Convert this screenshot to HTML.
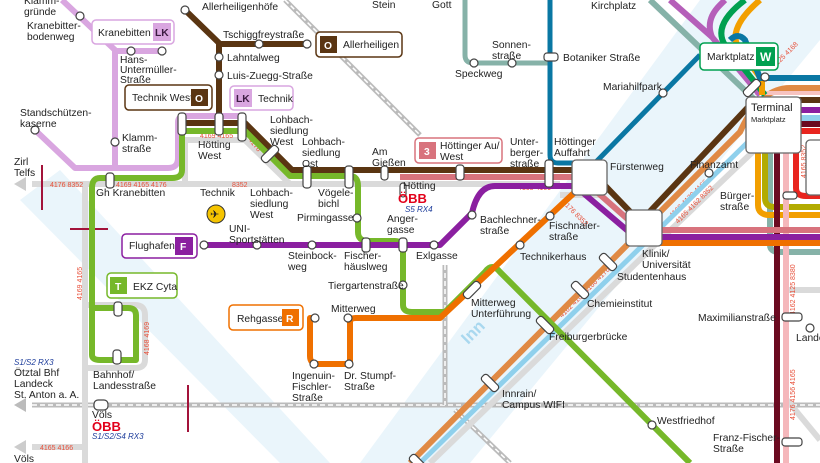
<!DOCTYPE html>
<html><head><meta charset="utf-8"><style>
html,body{margin:0;padding:0;background:#fff;}
svg{display:block;font-family:"Liberation Sans",sans-serif;}
.t{font-size:10.3px;fill:#222;}
.s{font-size:7px;fill:#e8503a;}
</style></head><body>
<svg width="820" height="463" viewBox="0 0 820 463" xmlns="http://www.w3.org/2000/svg">
<polygon points="700,0 820,0 820,40 470,463 360,463" fill="#eaf5fb"/>
<polygon points="20,200 60,170 330,463 280,463" fill="#eaf5fb"/>
<text x="468" y="345" transform="rotate(-45 468 345)" font-size="17" font-weight="bold" fill="#a9d8ef">Inn</text>

<g fill="none">
<path d="M32,405 H820" stroke="#bbb" stroke-width="5"/>
<path d="M32,405 H820" stroke="#fff" stroke-width="1.5" stroke-dasharray="5 3"/>
<path d="M445,265 V405" stroke="#bbb" stroke-width="5"/><path d="M445,265 V405" stroke="#fff" stroke-width="1.5" stroke-dasharray="5 3"/>
<path d="M285,0 L420,135" stroke="#bbb" stroke-width="5"/><path d="M285,0 L420,135" stroke="#fff" stroke-width="1.5" stroke-dasharray="5 3"/>
<path d="M455,410 L510,463" stroke="#bbb" stroke-width="5"/><path d="M455,410 L510,463" stroke="#fff" stroke-width="1.5" stroke-dasharray="5 3"/>
</g>
<polygon points="14,405 26,398 26,412" fill="#bbb"/>
<polygon points="14,184 26,177 26,191" fill="#ccc"/>
<polygon points="14,447 26,440 26,454" fill="#ccc"/>

<g fill="none" stroke="#dadada" stroke-width="6" stroke-linejoin="round">
<path d="M32,184 H560"/>
<path d="M85,184 V463"/>
<path d="M32,447 H82"/>
<path d="M185,140 H245 L290,184"/>
<path d="M185,140 V184"/>
<path d="M88,305 H135 Q145,305 145,315 V360 Q145,368 135,368 H88"/>
<path d="M430,463 L660,240 L760,145"/>
<path d="M787,290 H820"/>
<path d="M787,400 L820,440"/>
<path d="M560,195 H600"/>
</g>
<g class="s">
<text x="50" y="187">4176 8352</text><text x="116" y="187">4169 4165 4176</text><text x="232" y="187">8352</text>
<text x="200" y="138">4169 4165</text>
<text x="40" y="450">4165 4166</text>
<text x="518" y="190">4165 4169</text>
</g>
<text class="s" transform="translate(82,300) rotate(-90)">4169 4165</text>
<text class="s" transform="translate(149,355) rotate(-90)">4168 4169</text>
<text class="s" transform="translate(248,140) rotate(50)">4176</text>
<text class="s" transform="translate(562,203) rotate(45)">4176 8352</text>
<text class="s" transform="translate(562,318) rotate(-45)">4162 4165 4166 4176</text>
<text class="s" transform="translate(672,218) rotate(-45)">4168 4170 4166</text>
<text class="s" transform="translate(678,224) rotate(-45)">4165 4162 8352</text>
<text class="s" transform="translate(798,178) rotate(-90)">4175 4166</text>
<text class="s" transform="translate(806,178) rotate(-90)">4165 8352</text>
<text class="s" transform="translate(795,315) rotate(-90)">4162 4125 8380</text>
<text class="s" transform="translate(795,420) rotate(-90)">4176 4156 4165</text>
<text class="s" transform="translate(775,68) rotate(-45)">4125 4168</text>

<path d="M42,165 V210 M70,229 H108 M188,385 V432" stroke="#a3133a" stroke-width="2"/>

<g fill="none" stroke-linejoin="round">
<path d="M410,463 L640,232" stroke="#e08a45" stroke-width="6"/>
<path d="M420,463 L648,240" stroke="#8fd0ec" stroke-width="5"/>
<path d="M640,232 L740,132 Q760,88 790,88 H820" stroke="#e08a45" stroke-width="6"/>
<path d="M648,240 L750,140" stroke="#8fd0ec" stroke-width="5"/>
</g>

<g fill="none" stroke-width="6" stroke-linejoin="round">
<path d="M770,150 V245 Q770,252 780,252 H820" stroke="#86b2a8"/>
<path d="M758,150 V205 Q758,215 770,215 H820" stroke="#f29f00"/>
<path d="M765,150 V198 Q765,207 775,207 H820" stroke="#b2ab00"/>
<path d="M777,150 V463" stroke="#6b0a20"/>
<path d="M786,150 V463" stroke="#f5b7bb"/>
<path d="M796,150 V188 Q796,196 806,196 H820" stroke="#e8251f"/>
<path d="M800,110 H820" stroke="#8b1fa0"/>
<path d="M800,118 H820" stroke="#8fd0ec"/>
<path d="M800,124 H820" stroke="#6b0a20"/>
<path d="M800,131 H820" stroke="#e8251f"/>
<path d="M760,100 H820" stroke="#5a3512"/>
<path d="M755,93 L820,93" stroke="#f7c3c0" stroke-width="4"/>
</g>

<g fill="none" stroke-width="6">
<path d="M650,0 L755,100" stroke="#86b2a8"/>
<path d="M670,0 L712,37 Q705,20 720,5 L725,0" stroke="#b55fb9"/>
<path d="M712,37 L760,95" stroke="#b55fb9"/>
<path d="M745,0 Q712,25 725,45 L765,95" stroke="#00a050"/>
<path d="M760,0 Q725,30 740,50 L762,80 V95" stroke="#f29f00"/>
<path d="M730,40 Q738,32 745,40 L760,78 H820" stroke="#0a77a3"/>
</g>

<path d="M465,0 V55 Q465,63 473,63 H550" fill="none" stroke="#86b2a8" stroke-width="5"/>
<path d="M550,0 V155 Q550,163 558,163 H580 M595,163 L700,55" fill="none" stroke="#0a77a3" stroke-width="5"/>

<g fill="none" stroke="#d9a6e0" stroke-width="6" stroke-linejoin="round">
<path d="M62,0 L115,50 V168"/>
<path d="M115,51 H162"/>
<path d="M35,130 L75,168 H168 Q178,168 178,158 V122 Q178,116 186,116 H242"/>
</g>

<path d="M400,177 H580 L640,230 H820" fill="none" stroke="#d8737d" stroke-width="6"/>

<g fill="none" stroke="#5a3512" stroke-width="6" stroke-linejoin="round">
<path d="M185,10 L219,43 V123"/>
<path d="M219,44 H307"/>
<path d="M185,123 H245 L292,170 H590 L640,222 L750,105"/>
</g>

<g fill="none" stroke="#76b82a" stroke-width="6" stroke-linejoin="round">
<path d="M182,131 V170 Q182,178 172,178 H100 Q92,178 92,188 V355 Q92,360 100,360 H136 V315 Q136,308 128,308 H92"/>
<path d="M182,131 H245 L290,176 H350 Q358,176 358,186 V232 Q358,241 368,241 H395 Q403,241 403,250 V305 Q403,312 412,312 H445 L485,272 Q492,262 500,272 L690,463"/>
</g>

<path d="M204,245 H440 L472,213 Q478,186 495,186 H575 L635,237 H820" fill="none" stroke="#8b1fa0" stroke-width="6" stroke-linejoin="round"/>

<g fill="none" stroke="#ef7000" stroke-width="6" stroke-linejoin="round">
<path d="M316,318 H310 V356 Q310,364 318,364 H350 V322 Q350,318 356,318 H440 L575,192 M626,243 H820"/>
</g>

<g fill="#fff" stroke="#444" stroke-width="1.2">
<circle cx="185" cy="10" r="4"/><circle cx="259" cy="44" r="4"/><circle cx="307" cy="44" r="4"/>
<circle cx="219" cy="57" r="4"/><circle cx="219" cy="75" r="4"/>
<circle cx="80" cy="16" r="4"/><circle cx="131" cy="51" r="4"/><circle cx="162" cy="51" r="4"/>
<circle cx="115" cy="142" r="4"/><circle cx="35" cy="130" r="4"/>
<circle cx="474" cy="63" r="4"/><circle cx="512" cy="63" r="4"/>
<circle cx="663" cy="93" r="4"/><circle cx="709" cy="173" r="4"/>
<circle cx="472" cy="215" r="4"/><circle cx="550" cy="216" r="4"/><circle cx="520" cy="245" r="4"/>
<circle cx="204" cy="245" r="4"/><circle cx="257" cy="245" r="4"/><circle cx="312" cy="245" r="4"/>
<circle cx="434" cy="245" r="4"/><circle cx="357" cy="218" r="4"/>
<circle cx="403" cy="285" r="4"/>
<circle cx="315" cy="318" r="4"/><circle cx="348" cy="318" r="4"/><circle cx="314" cy="364" r="4"/><circle cx="349" cy="364" r="4"/>
<circle cx="652" cy="425" r="4"/><circle cx="765" cy="77" r="4"/>
<circle cx="810" cy="328" r="4"/>
</g>
<g fill="#fff" stroke="#444" stroke-width="1.2">
<rect x="178" y="113" width="8" height="22" rx="3"/><rect x="215" y="113" width="8" height="22" rx="3"/><rect x="238" y="113" width="8" height="28" rx="3"/>
<rect x="106" y="173" width="8" height="15" rx="3"/>
<rect x="303" y="166" width="8" height="22" rx="3"/><rect x="345" y="166" width="8" height="22" rx="3"/><rect x="381" y="166" width="7" height="14" rx="3"/>
<rect x="456" y="165" width="8" height="15" rx="3"/><rect x="545" y="160" width="8" height="27" rx="3"/>
<rect x="544" y="53" width="14" height="8" rx="3"/>
<rect x="362" y="238" width="8" height="14" rx="3"/><rect x="399" y="238" width="8" height="14" rx="3"/>
<rect x="114" y="302" width="8" height="14" rx="3"/><rect x="113" y="350" width="8" height="14" rx="3"/>
<rect x="94" y="400" width="14" height="10" rx="4"/>
<rect x="782" y="313" width="20" height="8" rx="3"/><rect x="782" y="438" width="20" height="8" rx="3"/>
<rect x="783" y="192" width="14" height="7" rx="3"/>
<rect x="400" y="183" width="6" height="14" rx="3"/>
</g>
<g fill="#fff" stroke="#444" stroke-width="1.2">
<rect x="-10" y="-4" width="20" height="8" rx="3" transform="translate(270,154) rotate(-45)"/>
<rect x="-10" y="-4" width="20" height="8" rx="3" transform="translate(472,290) rotate(-45)"/>
<rect x="-10" y="-4" width="20" height="8" rx="3" transform="translate(608,262) rotate(45)"/>
<rect x="-10" y="-4" width="20" height="8" rx="3" transform="translate(580,290) rotate(45)"/>
<rect x="-10" y="-4" width="20" height="8" rx="3" transform="translate(490,383) rotate(45)"/>
<rect x="-10" y="-4" width="20" height="8" rx="3" transform="translate(545,325) rotate(45)"/>
<rect x="-10" y="-4" width="20" height="8" rx="3" transform="translate(752,88) rotate(-45)"/>
<rect x="-10" y="-4" width="20" height="8" rx="3" transform="translate(418,463) rotate(45)"/>
</g>

<g fill="#fff" stroke="#666" stroke-width="1.3">
<rect x="572" y="160" width="35" height="35" rx="4"/>
<rect x="626" y="210" width="36" height="36" rx="4"/>
<rect x="746" y="97" width="55" height="56" rx="4"/>
<rect x="806" y="140" width="20" height="55" rx="4"/>
</g>
<text x="751" y="111" font-size="11" fill="#222">Terminal</text>
<text x="751" y="122" font-size="7.5" fill="#222">Marktplatz</text>

<g font-size="10.3">
<rect x="92" y="20" width="82" height="24" rx="4" fill="#fff" stroke="#d9a6e0" stroke-width="1.5"/>
<text x="98" y="36" fill="#222">Kranebitten</text><rect x="153" y="23" width="18" height="18" fill="#d9a6e0"/><text x="155" y="36" font-weight="bold" fill="#3a1a40">LK</text>

<rect x="316" y="32" width="86" height="25" rx="4" fill="#fff" stroke="#5a3512" stroke-width="1.5"/>
<rect x="320" y="36" width="17" height="17" fill="#5a3512"/><text x="324" y="49" font-weight="bold" fill="#fff">O</text><text x="343" y="48" fill="#222">Allerheiligen</text>

<rect x="125" y="85" width="87" height="25" rx="4" fill="#fff" stroke="#5a3512" stroke-width="1.5"/>
<text x="132" y="101" fill="#222">Technik West</text><rect x="191" y="89" width="17" height="17" fill="#5a3512"/><text x="195" y="102" font-weight="bold" fill="#fff">O</text>

<rect x="230" y="86" width="63" height="24" rx="4" fill="#fff" stroke="#d9a6e0" stroke-width="1.5"/>
<rect x="234" y="89" width="18" height="18" fill="#d9a6e0"/><text x="236" y="102" font-weight="bold" fill="#3a1a40">LK</text><text x="258" y="102" fill="#222">Technik</text>

<rect x="415" y="138" width="87" height="25" rx="4" fill="#fff" stroke="#d8737d" stroke-width="1.5"/>
<rect x="419" y="142" width="17" height="17" fill="#d8737d"/><text x="424" y="155" font-weight="bold" fill="#fff">3</text>
<text x="440" y="149" fill="#222">Höttinger Au/</text><text x="440" y="160" fill="#222">West</text>

<rect x="700" y="43" width="78" height="27" rx="4" fill="#fff" stroke="#00a050" stroke-width="1.5"/>
<text x="707" y="60" fill="#222">Marktplatz</text><rect x="756" y="47" width="19" height="19" fill="#00a050"/><text x="760" y="61" font-weight="bold" font-size="12" fill="#fff">W</text>

<rect x="122" y="234" width="75" height="24" rx="4" fill="#fff" stroke="#8b1fa0" stroke-width="1.5"/>
<text x="129" y="249" fill="#222">Flughafen</text><rect x="175" y="237" width="18" height="18" fill="#8b1fa0"/><text x="180" y="250" font-weight="bold" fill="#fff">F</text>

<rect x="107" y="273" width="70" height="25" rx="4" fill="#fff" stroke="#76b82a" stroke-width="1.5"/>
<rect x="110" y="277" width="17" height="17" fill="#76b82a"/><text x="115" y="290" font-weight="bold" fill="#fff">T</text><text x="133" y="290" fill="#222">EKZ Cyta</text>

<rect x="229" y="305" width="74" height="25" rx="4" fill="#fff" stroke="#ef7000" stroke-width="1.5"/>
<text x="237" y="322" fill="#222">Rehgasse</text><rect x="282" y="309" width="17" height="17" fill="#ef7000"/><text x="286" y="322" font-weight="bold" fill="#fff">R</text>
</g>

<circle cx="216" cy="214" r="9" fill="#f5c400" stroke="#333" stroke-width="1"/>
<text x="210" y="218" font-size="11" fill="#222">✈</text>

<g class="t">
<text x="24" y="4">Klamm-</text><text x="24" y="15">gründe</text>
<text x="27" y="29">Kranebitter-</text><text x="27" y="40">bodenweg</text>
<text x="202" y="10">Allerheiligenhöfe</text>
<text x="223" y="38">Tschiggfreystraße</text>
<text x="227" y="61">Lahntalweg</text>
<text x="227" y="79">Luis-Zuegg-Straße</text>
<text x="120" y="63">Hans-</text><text x="120" y="73">Untermüller-</text><text x="120" y="83">Straße</text>
<text x="20" y="116">Standschützen-</text><text x="20" y="127">kaserne</text>
<text x="122" y="141">Klamm-</text><text x="122" y="152">straße</text>
<text x="14" y="165">Zirl</text><text x="14" y="176">Telfs</text>
<text x="198" y="148">Hötting</text><text x="198" y="159">West</text>
<text x="270" y="123">Lohbach-</text><text x="270" y="134">siedlung</text><text x="270" y="145">West</text>
<text x="302" y="145">Lohbach-</text><text x="302" y="156">siedlung</text><text x="302" y="167">Ost</text>
<text x="372" y="155">Am</text><text x="372" y="166">Gießen</text>
<text x="96" y="196">Gh Kranebitten</text>
<text x="200" y="196">Technik</text>
<text x="250" y="196">Lohbach-</text><text x="250" y="207">siedlung</text><text x="250" y="218">West</text>
<text x="318" y="196">Vögele-</text><text x="318" y="207">bichl</text>
<text x="297" y="221">Pirmingasse</text>
<text x="403" y="189">Hötting</text>
<text x="387" y="222">Anger-</text><text x="387" y="233">gasse</text>
<text x="229" y="232">UNI-</text><text x="229" y="243">Sportstätten</text>
<text x="288" y="259">Steinbock-</text><text x="288" y="270">weg</text>
<text x="344" y="259">Fischer-</text><text x="344" y="270">häuslweg</text>
<text x="416" y="259">Exlgasse</text>
<text x="328" y="289">Tiergartenstraße</text>
<text x="331" y="312">Mitterweg</text>
<text x="292" y="379">Ingenuin-</text><text x="292" y="390">Fischler-</text><text x="292" y="401">Straße</text>
<text x="344" y="379">Dr. Stumpf-</text><text x="344" y="390">Straße</text>
<text x="93" y="378">Bahnhof/</text><text x="93" y="389">Landesstraße</text>
<text x="14" y="376">Ötztal Bhf</text><text x="14" y="387">Landeck</text><text x="14" y="398">St. Anton a. A.</text>
<text x="92" y="418">Völs</text>
<text x="14" y="462">Völs</text>
<text x="372" y="8">Stein</text><text x="432" y="8">Gott</text>
<text x="492" y="48">Sonnen-</text><text x="492" y="59">straße</text>
<text x="455" y="77">Speckweg</text>
<text x="563" y="61">Botaniker Straße</text>
<text x="591" y="9">Kirchplatz</text>
<text x="603" y="90">Mariahilfpark</text>
<text x="510" y="145">Unter-</text><text x="510" y="156">berger-</text><text x="510" y="167">straße</text>
<text x="554" y="145">Höttinger</text><text x="554" y="156">Auffahrt</text>
<text x="610" y="170">Fürstenweg</text>
<text x="690" y="168">Finanzamt</text>
<text x="720" y="199">Bürger-</text><text x="720" y="210">straße</text>
<text x="480" y="223">Bachlechner-</text><text x="480" y="234">straße</text>
<text x="549" y="229">Fischnaler-</text><text x="549" y="240">straße</text>
<text x="520" y="260">Technikerhaus</text>
<text x="642" y="257">Klinik/</text><text x="642" y="268">Universität</text>
<text x="617" y="280">Studentenhaus</text>
<text x="587" y="307">Chemieinstitut</text>
<text x="471" y="306">Mitterweg</text><text x="471" y="317">Unterführung</text>
<text x="549" y="340">Freiburgerbrücke</text>
<text x="698" y="321">Maximilianstraße</text>
<text x="796" y="341">Lande</text>
<text x="502" y="397">Innrain/</text><text x="502" y="408">Campus WIFI</text>
<text x="657" y="424">Westfriedhof</text>
<text x="713" y="441">Franz-Fischer-</text><text x="713" y="452">Straße</text>
</g>
<text x="398" y="203" font-size="13" font-weight="bold" fill="#e2001a">ÖBB</text>
<text x="405" y="212" font-size="8" font-style="italic" fill="#1a3a9a">S5 RX4</text>
<text x="92" y="431" font-size="13" font-weight="bold" fill="#e2001a">ÖBB</text>
<text x="92" y="439" font-size="8" font-style="italic" fill="#1a3a9a">S1/S2/S4 RX3</text>
<text x="14" y="365" font-size="8" font-style="italic" fill="#1a3a9a">S1/S2 RX3</text>
</svg>
</body></html>
